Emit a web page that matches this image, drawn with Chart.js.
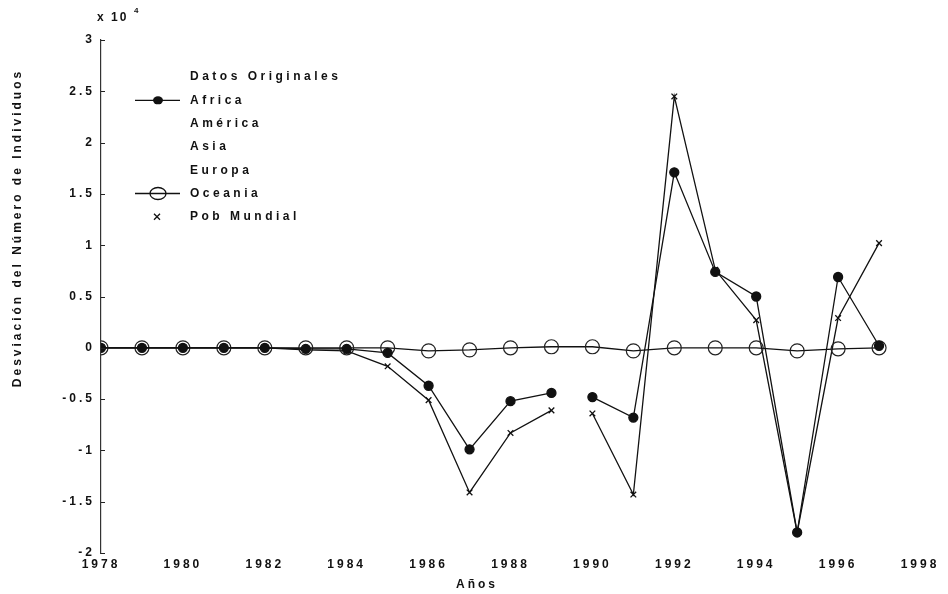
<!DOCTYPE html>
<html>
<head>
<meta charset="utf-8">
<script src="https://cdn.jsdelivr.net/npm/chart.js@4.4.1/dist/chart.umd.min.js"></script>
<style>
html,body{margin:0;padding:0;background:#fff;}
canvas{display:block;}
</style>
</head>
<body>
<canvas id="c" width="948" height="594"></canvas>
<script>
// ---- data ----
const years = [1978,1979,1980,1981,1982,1983,1984,1985,1986,1987,1988,1989,1990,1991,1992,1993,1994,1995,1996,1997];
const africa = [0,0,0,0,0,-0.01,-0.01,-0.05,-0.37,-0.99,-0.52,-0.44,-0.48,-0.68,1.71,0.74,0.50,-1.80,0.69,0.02];
const oceania = [0,0,0,0,0,0,0,0,-0.03,-0.02,0,0.01,0.01,-0.03,0,0,0,-0.03,-0.01,0];
const pobMundial = [0,0,0,0,0,-0.02,-0.03,-0.18,-0.51,-1.41,-0.83,-0.61,-0.64,-1.43,2.45,0.76,0.27,-1.80,0.29,1.02];
const legendTitle = 'Datos Originales';
const legendLabels = ['Africa','América','Asia','Europa','Oceania','Pob Mundial'];
const yTickLabels = {'-2':'-2','-1.5':'-1.5','-1':'-1','-0.5':'-0.5','0':'0','0.5':'0.5','1':'1','1.5':'1.5','2':'2','2.5':'2.5','3':'3'};
const xTickLabels = ['1978','1980','1982','1984','1986','1988','1990','1992','1994','1996','1998'];
const gapAfterYear = 1989;
const yTitle = 'Desviación del Número de Individuos';
const xTitle = 'Años';
const scaleNote = 'x 10';
const scaleExp = '4';

const FONT = '"Liberation Sans", Arial, sans-serif';
const toPts = arr => years.map((y,i)=>({x:y, y:arr[i]}));
const gapSeg = {borderColor: ctx => (ctx.p0.parsed.x === gapAfterYear ? 'rgba(0,0,0,0)' : '#111')};

const decor = {
  id:'decor',
  beforeDraw(chart){ chart.ctx.letterSpacing = '3px'; },
  afterDraw(chart){
    const ctx = chart.ctx;
    const ys = chart.scales.y;
    ctx.save();
    ctx.strokeStyle = '#222'; ctx.lineWidth = 1;
    // inward ticks on y axis
    for (const k of Object.keys(yTickLabels)){
      const py = Math.round(ys.getPixelForValue(parseFloat(k))) + 0.5;
      ctx.beginPath(); ctx.moveTo(ys.right, py); ctx.lineTo(ys.right+4, py); ctx.stroke();
    }
    ctx.fillStyle = '#111';
    ctx.textBaseline = 'middle';
    ctx.textAlign = 'left';
    // multiplier
    ctx.letterSpacing = '2px';
    ctx.font = 'bold 12px ' + FONT;
    ctx.fillText(scaleNote, 97, 18);
    ctx.font = 'bold 8px ' + FONT;
    ctx.fillText(scaleExp, 134, 11);
    // legend
    ctx.font = 'bold 12px ' + FONT;
    ctx.letterSpacing = '3.5px';
    const lx = 190, ly0 = 77, step = 23.3;
    ctx.fillText(legendTitle, lx, ly0);
    legendLabels.forEach((t,i)=>{
      const y = ly0 + step*(i+1);
      ctx.fillText(t, lx, y);
    });
    // legend samples
    ctx.strokeStyle = '#111'; ctx.lineWidth = 1.3;
    let y = ly0 + step*1;
    ctx.beginPath(); ctx.moveTo(135,y); ctx.lineTo(180,y); ctx.stroke();
    ctx.beginPath(); ctx.ellipse(158,y,5,4,0,0,Math.PI*2); ctx.fill();
    y = ly0 + step*5;
    ctx.beginPath(); ctx.moveTo(135,y); ctx.lineTo(180,y); ctx.stroke();
    ctx.beginPath(); ctx.ellipse(158,y,8,6,0,0,Math.PI*2); ctx.stroke();
    y = ly0 + step*6;
    ctx.beginPath(); ctx.moveTo(154,y-3); ctx.lineTo(160,y+3); ctx.moveTo(160,y-3); ctx.lineTo(154,y+3); ctx.stroke();
    // axis titles
    ctx.font = 'bold 12px ' + FONT;
    ctx.letterSpacing = '3px';
    ctx.textAlign = 'center';
    ctx.fillText(xTitle, 477, 585);
    ctx.save();
    ctx.translate(18, 228);
    ctx.rotate(-Math.PI/2);
    ctx.fillText(yTitle, 0, 0);
    ctx.restore();
    ctx.restore();
  }
};

new Chart(document.getElementById('c'), {
  type:'line',
  data:{
    datasets:[
      {label:'Africa', data:toPts(africa), borderColor:'#111', backgroundColor:'#111', borderWidth:1.3,
       pointStyle:'circle', pointRadius:4.5, pointBackgroundColor:'#111', pointBorderColor:'#111', segment:gapSeg},
      {label:'Oceania', data:toPts(oceania), borderColor:'#111', backgroundColor:'rgba(0,0,0,0)', borderWidth:1.3,
       pointStyle:'circle', pointRadius:7, pointBackgroundColor:'rgba(0,0,0,0)', pointBorderColor:'#222', pointBorderWidth:1.2},
      {label:'Pob Mundial', data:toPts(pobMundial), borderColor:'#111', backgroundColor:'#111', borderWidth:1.3,
       pointStyle:'crossRot', pointRadius:4, pointBorderColor:'#111', pointBorderWidth:1.3, segment:gapSeg}
    ]
  },
  options:{
    responsive:false, animation:false,
    layout:{padding:{top:40,right:28,left:0,bottom:0}},
    plugins:{legend:{display:false}, tooltip:{enabled:false}},
    scales:{
      x:{type:'linear', min:1978, max:1998,
         afterBuildTicks(s){ s.ticks = xTickLabels.map(v=>({value:parseFloat(v)})); },
         ticks:{callback:v=>String(v), color:'#111', font:{family:FONT,size:12,weight:'bold'}, padding:4, maxRotation:0, autoSkip:false},
         grid:{display:false, drawTicks:false}, border:{display:false},
         afterFit(s){ s.height = 41; }},
      y:{min:-2, max:3,
         afterBuildTicks(s){ s.ticks = Object.keys(yTickLabels).map(v=>({value:parseFloat(v)})); },
         ticks:{callback:v=>yTickLabels[String(v)], color:'#111', font:{family:FONT,size:12,weight:'bold'}, padding:6},
         grid:{display:false, drawTicks:false}, border:{display:true, color:'#333', width:1.2},
         afterFit(s){ s.width = 101; }}
    }
  },
  plugins:[decor]
});
</script>
</body>
</html>
